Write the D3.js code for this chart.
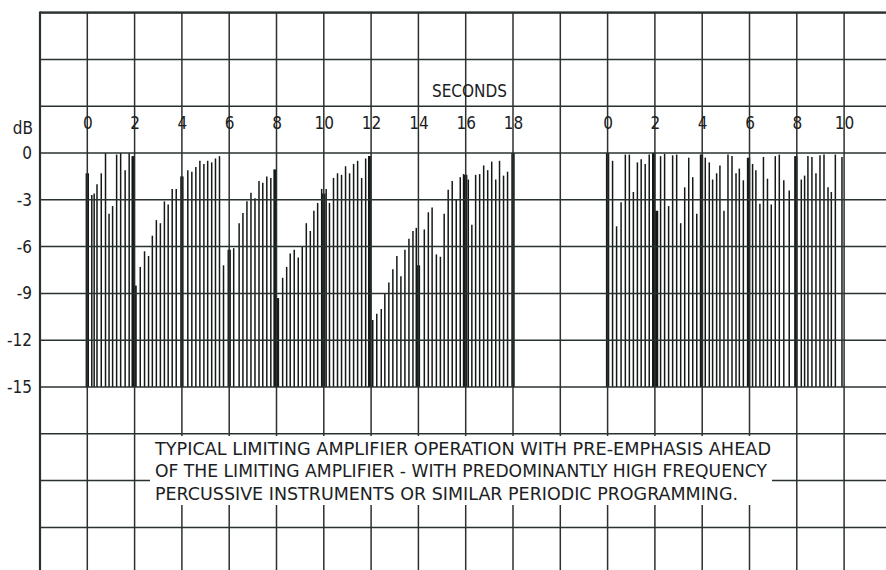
<!DOCTYPE html>
<meta charset="utf-8">
<style>
body { margin: 0; background: #fff; }
svg text {
  font-family: "DejaVu Sans Condensed", "DejaVu Sans", sans-serif;
  font-stretch: condensed;
  fill: #1b211e;
}
.axis .domain { display: none; }
</style>
<svg width="886" height="570"></svg>
<script src="https://d3js.org/d3.v7.min.js"></script>
<script>
// tick labels
var leftTicks = [0, 2, 4, 6, 8, 10, 12, 14, 16, 18];
var rightTicks = [0, 2, 4, 6, 8, 10];
var dbTicks = [0, -3, -6, -9, -12, -15];

// left trace: pulse time (s) and peak level (dB)
var leftTimes = [0.0, 0.19, 0.29, 0.41, 0.59, 0.77, 0.92, 1.07, 1.24, 1.41, 1.6, 1.77, 1.94,
  2.02, 2.24, 2.42, 2.59, 2.75, 2.92, 3.09, 3.26, 3.42, 3.59, 3.76, 4.0, 4.25, 4.42, 4.59, 4.76, 4.93, 5.09, 5.26, 5.42, 5.59, 5.76, 6.0,
  6.19, 6.42, 6.58, 6.75, 6.92, 7.09, 7.26, 7.42, 7.59, 7.76, 7.94,
  8.04, 8.26, 8.43, 8.58, 8.75, 8.92, 9.09, 9.26, 9.43, 9.58, 9.74, 9.91, 10.0, 10.1, 10.24, 10.41, 10.58, 10.75, 10.92, 11.09, 11.26, 11.43, 11.6, 11.77, 11.94,
  12.07, 12.24, 12.43, 12.58, 12.75, 12.92, 13.09, 13.26, 13.43, 13.6, 13.77, 13.91, 14.0, 14.25, 14.42, 14.58, 14.76, 14.93, 15.09, 15.26, 15.43, 15.6, 15.77, 15.91,
  16.0, 16.11, 16.26, 16.42, 16.59, 16.76, 16.93, 17.1, 17.27, 17.43, 17.6, 17.77, 18.0];
var leftLevels = [-1.3, -2.7, -2.6, -2.0, -1.3, 0, -3.9, -3.4, -0.1, 0, -1.1, 0, -0.2,
  -8.5, -7.3, -6.3, -6.6, -5.3, -4.3, -4.5, -3.1, -3.3, -2.3, -2.3, -1.5, -1.1, -1.2, -0.9, -0.5, -0.7, -0.5, -0.6, -0.35, -0.2, -7.2, -6.2,
  -6.1, -4.5, -3.85, -3.1, -2.55, -2.9, -1.8, -1.9, -1.5, -1.6, -1.05,
  -9.3, -8.0, -7.3, -6.45, -6.2, -6.7, -6.0, -4.5, -5.0, -3.7, -3.2, -2.3, -2.6, -2.3, -3.2, -1.6, -1.3, -1.4, -0.85, -1.3, -0.7, -0.5, -1.6, -0.35, -0.2,
  -10.7, -10.3, -10.0, -9.0, -8.3, -7.45, -6.6, -7.9, -6.2, -5.5, -5.0, -4.8, -7.2, -4.9, -3.8, -3.5, -6.5, -6.65, -3.9, -2.35, -1.8, -3.0, -1.55, -1.35,
  -1.4, -1.7, -4.6, -1.4, -1.35, -0.8, -1.1, -0.55, -1.7, -0.5, -1.45, -1.2, 0];

// right trace
var rightTimes = [0, 0.21, 0.38, 0.57, 0.75, 0.92, 1.09, 1.26, 1.42, 1.59, 1.76, 1.95,
  2.07, 2.24, 2.41, 2.58, 2.75, 2.92, 3.09, 3.26, 3.43, 3.6, 3.77, 3.97,
  4.13, 4.3, 4.44, 4.61, 4.75, 4.92, 5.09, 5.26, 5.43, 5.57, 5.74, 5.96,
  6.13, 6.27, 6.44, 6.59, 6.76, 6.92, 7.09, 7.26, 7.45, 7.68, 7.96,
  8.19, 8.33, 8.47, 8.64, 8.81, 8.98, 9.15, 9.32, 9.46, 9.63, 9.91];
var rightLevels = [0, -0.5, -4.7, -3.15, -0.1, -0.1, -2.5, -0.6, -0.4, -0.7, -0.1, 0,
  -3.7, -0.2, -0.05, -3.4, -0.15, -0.1, -4.5, -2.2, -0.3, -1.55, -3.9, -0.1,
  -0.3, -0.6, -1.7, -1.3, -0.8, -3.7, -0.1, -0.2, -1.3, -1.0, -1.75, -0.3,
  -0.7, -1.1, -3.25, -0.25, -1.65, -3.3, -0.2, -0.1, -1.75, -2.4, -0.2,
  -1.7, -1.45, -0.2, -0.25, -1.3, -0.15, -0.1, -2.2, -2.5, -0.1, -0.25];

var caption = [
  "TYPICAL LIMITING AMPLIFIER OPERATION WITH PRE-EMPHASIS AHEAD",
  "OF THE LIMITING AMPLIFIER - WITH PREDOMINANTLY HIGH FREQUENCY",
  "PERCUSSIVE INSTRUMENTS OR SIMILAR PERIODIC PROGRAMMING."
];

var svg = d3.select("svg"),
    W = +svg.attr("width"),
    H = +svg.attr("height");

var ink = "#141917", gridInk = "#29322e";

// one grid cell = 2 seconds wide, 3 dB tall
var x = d3.scaleLinear().domain([-2, 26]).range([40, 40 + 14 * 47.3]);
var xR = d3.scaleLinear().domain([0, 10]).range([x(22), x(32)]);
var y = d3.scaleLinear().domain([0, -15]).range([153, 153 + 5 * 46.8]);

function isGridPulse(t) { return Math.abs(t - Math.round(t / 2) * 2) < 0.07; }

// pulses
function drawTrace(times, levels, sx) {
  svg.append("g")
    .selectAll("line")
    .data(d3.zip(times, levels))
    .join("line")
      .attr("x1", function(d) { return sx(d[0]); })
      .attr("x2", function(d) { return sx(d[0]); })
      .attr("y1", y(-15))
      .attr("y2", function(d) { return y(d[1]); })
      .attr("stroke", ink)
      .attr("stroke-width", function(d) { return isGridPulse(d[0]) ? 3.4 : 1.5; });
}
drawTrace(leftTimes, leftLevels, x);
drawTrace(rightTimes, rightLevels, xR);

// grid
var grid = svg.append("g").attr("stroke", gridInk).attr("stroke-width", 1.5);
grid.selectAll(".v")
  .data(d3.range(-2, 33, 2))
  .join("line")
    .attr("x1", x).attr("x2", x)
    .attr("y1", y(9)).attr("y2", H);
grid.selectAll(".h")
  .data(d3.range(9, -25, -3))
  .join("line")
    .attr("x1", x(-2)).attr("x2", W)
    .attr("y1", y).attr("y2", y);

// heavier outer edges
svg.append("line").attr("x1", x(-2)).attr("x2", x(-2)).attr("y1", y(9) - 1).attr("y2", H)
  .attr("stroke", gridInk).attr("stroke-width", 2.2);
svg.append("line").attr("x1", x(-2)).attr("x2", W).attr("y1", y(9)).attr("y2", y(9))
  .attr("stroke", gridInk).attr("stroke-width", 2.2);

// axes
function styleAxis(g) {
  g.selectAll("text").style("font-size", "17px").attr("fill", ink);
}
svg.append("g")
    .attr("class", "axis")
    .attr("transform", "translate(0,129)")
    .call(d3.axisTop(x).tickValues(leftTicks).tickSize(0).tickPadding(0).tickFormat(String))
    .call(styleAxis);
svg.append("g")
    .attr("class", "axis")
    .attr("transform", "translate(0,129)")
    .call(d3.axisTop(xR).tickValues(rightTicks).tickSize(0).tickPadding(0).tickFormat(String))
    .call(styleAxis);
svg.append("g")
    .attr("class", "axis")
    .attr("transform", "translate(32,0)")
    .call(d3.axisLeft(y).tickValues(dbTicks).tickSize(0).tickPadding(0).tickFormat(String))
    .call(styleAxis);

svg.append("text")
    .attr("x", 33).attr("y", 134)
    .attr("text-anchor", "end")
    .style("font-size", "17px")
    .text("dB");

svg.append("text")
    .attr("x", 432).attr("y", 97)
    .attr("textLength", 75)
    .attr("lengthAdjust", "spacingAndGlyphs")
    .style("font-size", "17px")
    .text("SECONDS");

// caption on a white patch
svg.append("rect")
    .attr("x", 150).attr("y", 436)
    .attr("width", 622).attr("height", 69)
    .attr("fill", "#fff");

var capWidths = [616, 612, 583];
svg.append("g")
  .selectAll("text")
  .data(caption)
  .join("text")
    .attr("x", 155)
    .attr("y", function(d, i) { return 454.5 + i * 22.5; })
    .attr("textLength", function(d, i) { return capWidths[i]; })
    .attr("lengthAdjust", "spacingAndGlyphs")
    .style("font-size", "17.5px")
    .text(function(d) { return d; });
</script>
